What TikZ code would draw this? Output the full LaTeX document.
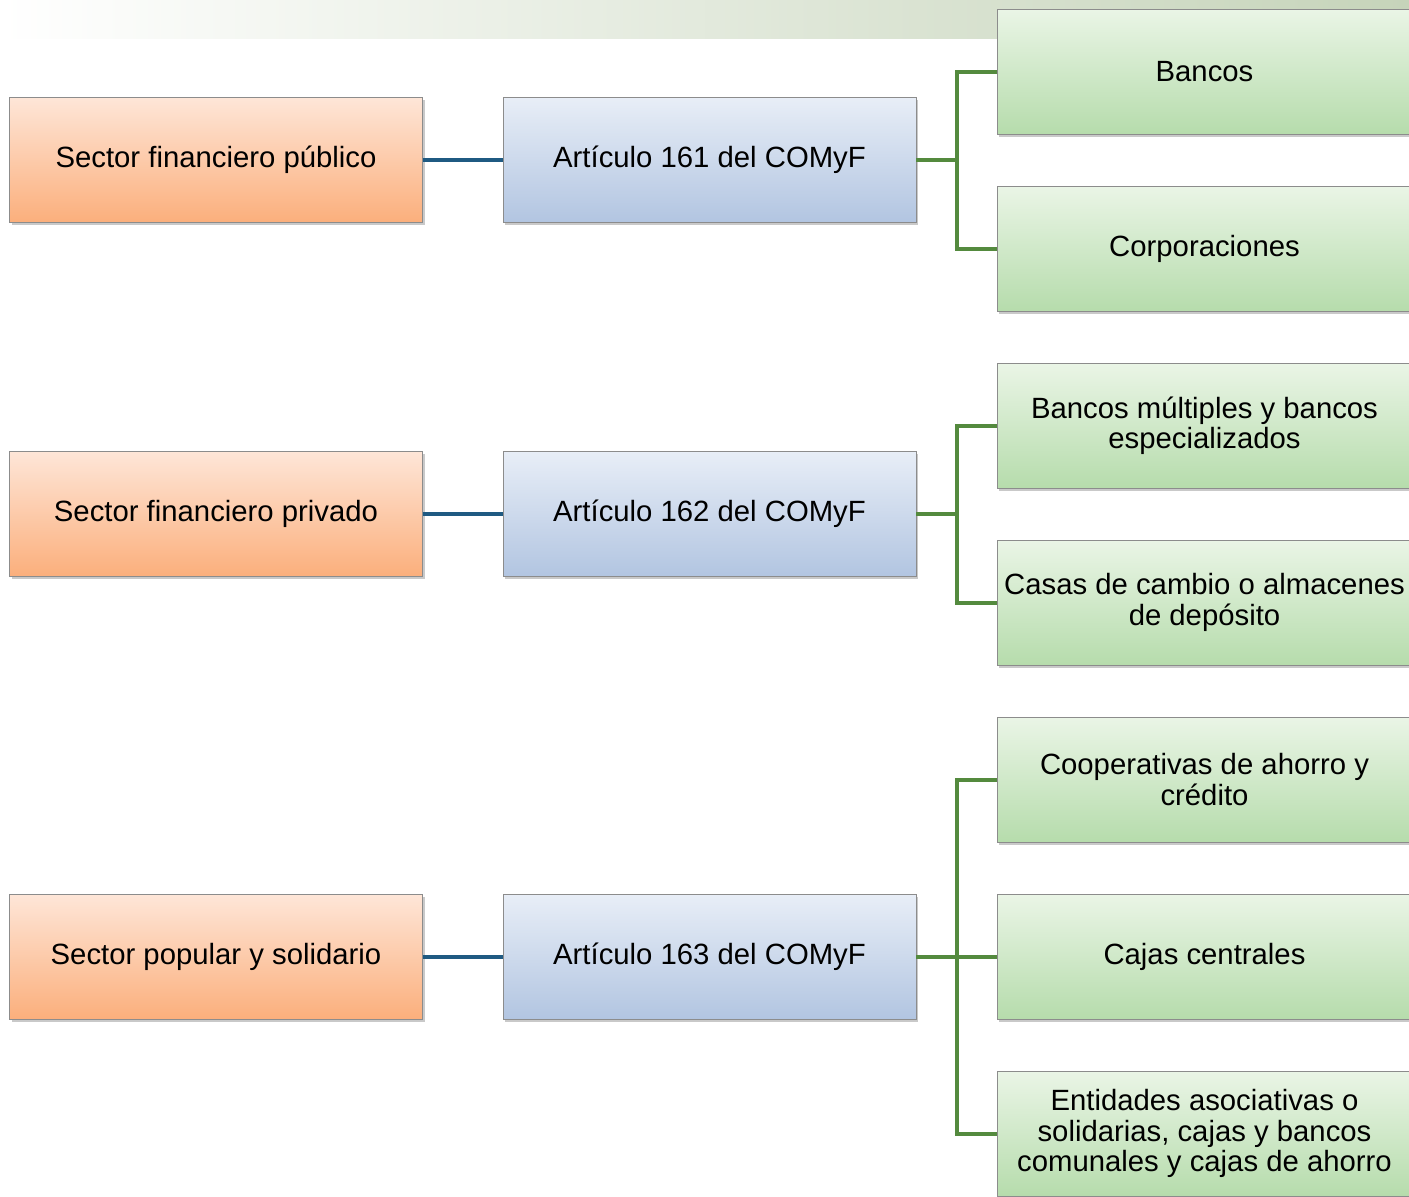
\documentclass[tikz,border=0pt]{standalone}
\usepackage{fontspec}
\setmainfont{Liberation Sans}
\usetikzlibrary{shadows}
\definecolor{bandgreen}{HTML}{C6D4BA}
\definecolor{ortop}{HTML}{FEE6D8}
\definecolor{orbot}{HTML}{FBAF7C}
\definecolor{bltop}{HTML}{E8EEF7}
\definecolor{blbot}{HTML}{B2C5E1}
\definecolor{grtop}{HTML}{EAF5E6}
\definecolor{grbot}{HTML}{B6DCAC}
\definecolor{bline}{HTML}{1F5A82}
\definecolor{gline}{HTML}{548A3E}
\definecolor{bordr}{HTML}{8C8C8C}
\tikzset{
  boxbase/.style={draw=bordr, line width=1pt, minimum width=413pt, minimum height=125pt,
    inner sep=0pt, outer sep=0pt, align=center, font=\fontsize{29.3}{30.5}\selectfont,
    drop shadow={shadow xshift=2pt, shadow yshift=-3pt, opacity=0.3, fill=black!70}},
  obox/.style={boxbase, top color=ortop, bottom color=orbot},
  bbox/.style={boxbase, top color=bltop, bottom color=blbot},
  gbox/.style={boxbase, minimum width=415pt, top color=grtop, bottom color=grbot},
  bconn/.style={draw=bline, line width=4pt},
  gconn/.style={draw=gline, line width=4pt}
}
\begin{document}
\begin{tikzpicture}[x=1pt,y=-1pt]
\useasboundingbox (0,0) rectangle (1409,1197);
\shade[left color=white, right color=bandgreen] (0,0) rectangle (1409,38);

% row 1
\node[obox] (o1) at (216,159.5) {Sector financiero público};
\node[bbox] (a1) at (709.5,159.5) {Artículo 161 del COMyF};
\node[gbox] (g1) at (1204.5,71.5) {Bancos};
\node[gbox] (g2) at (1204.5,248.5) {Corporaciones};
% row 2
\node[obox] (o2) at (216,513.5) {Sector financiero privado};
\node[bbox] (a2) at (709.5,513.5) {Artículo 162 del COMyF};
\node[gbox] (g3) at (1204.5,425.5) {Bancos múltiples y bancos\\especializados};
\node[gbox] (g4) at (1204.5,602.5) {Casas de cambio o almacenes\\de depósito};
% row 3
\node[obox] (o3) at (216,956.5) {Sector popular y solidario};
\node[bbox] (a3) at (709.5,956.5) {Artículo 163 del COMyF};
\node[gbox] (g5) at (1204.5,779.5) {Cooperativas de ahorro y\\crédito};
\node[gbox] (g6) at (1204.5,956.5) {Cajas centrales};
\node[gbox] (g7) at (1204.5,1133.5) {Entidades asociativas o\\solidarias, cajas y bancos\\comunales y cajas de ahorro};

% connectors
\draw[bconn] (o1.east) -- (a1.west);
\draw[bconn] (o2.east) -- (a2.west);
\draw[bconn] (o3.east) -- (a3.west);

\coordinate (j1) at ([xshift=41pt]a1.east);
\coordinate (j2) at ([xshift=41pt]a2.east);
\coordinate (j3) at ([xshift=41pt]a3.east);
\draw[gconn] (a1.east) -- (j1);
\draw[gconn] (g1.west) -| (j1) |- (g2.west);
\draw[gconn] (a2.east) -- (j2);
\draw[gconn] (g3.west) -| (j2) |- (g4.west);
\draw[gconn] (a3.east) -- (g6.west);
\draw[gconn] (g5.west) -| (j3) |- (g7.west);
\end{tikzpicture}
\end{document}
